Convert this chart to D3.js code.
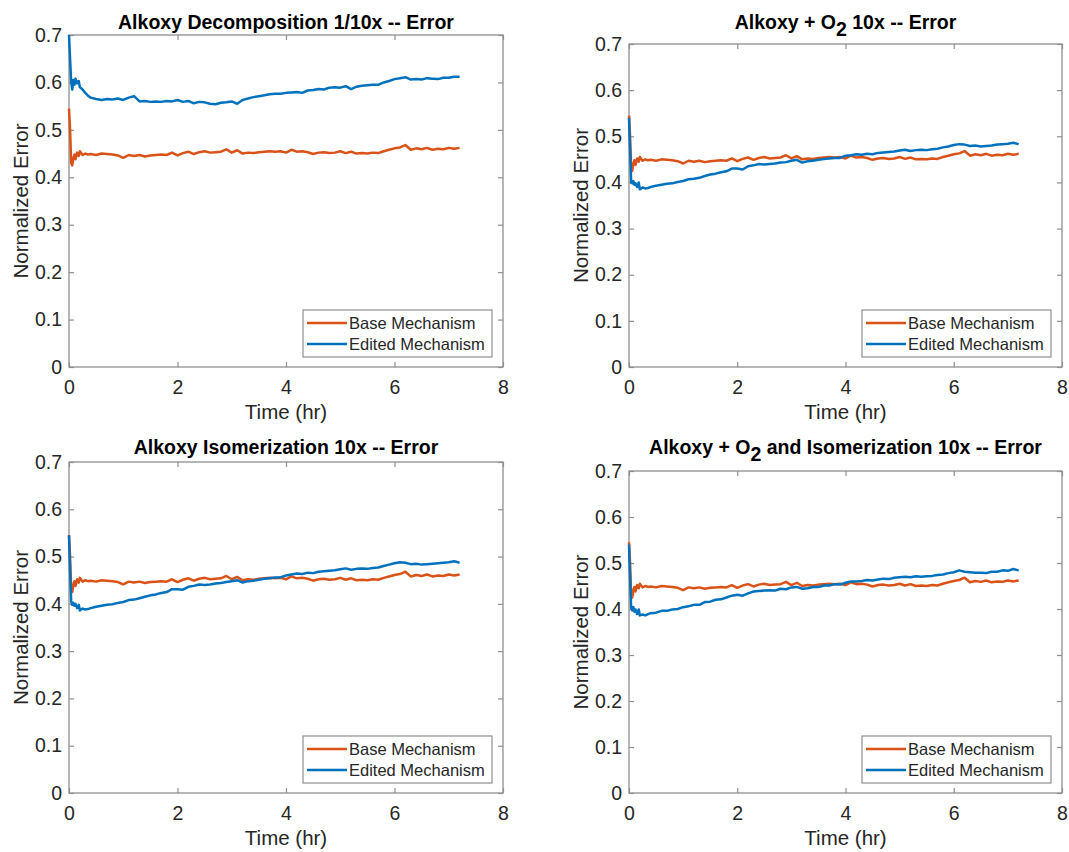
<!DOCTYPE html>
<html lang="en">

<head>
    <meta charset="UTF-8">
    <title>Alkoxy Mechanism Error</title>
    <script src="https://d3js.org/d3.v7.min.js"></script>
    <style>
        body { margin: 0; background: #fff; }
        text { font-family: "Liberation Sans", Arial, sans-serif; fill: #262626; }
    </style>
</head>

<body>
    <script>
        // time in hours
        let time = [0, 0.02, 0.04, 0.06, 0.08, 0.1, 0.12, 0.15, 0.18, 0.2, 0.25, 0.3, 0.35,
            0.4, 0.5, 0.6, 0.7, 0.8, 0.9, 1.0,
            1.1, 1.2, 1.3, 1.4, 1.5, 1.6, 1.7, 1.8, 1.9, 2.0,
            2.1, 2.2, 2.3, 2.4, 2.5, 2.6, 2.7, 2.8, 2.9, 3.0,
            3.1, 3.2, 3.3, 3.4, 3.5, 3.6, 3.7, 3.8, 3.9, 4.0,
            4.1, 4.2, 4.3, 4.4, 4.5, 4.6, 4.7, 4.8, 4.9, 5.0,
            5.1, 5.2, 5.3, 5.4, 5.5, 5.6, 5.7, 5.8, 5.9, 6.0,
            6.1, 6.2, 6.3, 6.4, 6.5, 6.6, 6.7, 6.8, 6.9, 7.0,
            7.1, 7.2];

        // base mechanism (same in every panel)
        let baseErr = [0.545, 0.50, 0.43, 0.425, 0.44, 0.448, 0.438, 0.452, 0.445, 0.455, 0.447, 0.45, 0.448,
            0.449, 0.447, 0.45, 0.449, 0.448, 0.446, 0.441,
            0.447, 0.445, 0.447, 0.444, 0.446, 0.447, 0.448, 0.447, 0.452, 0.446,
            0.451, 0.454, 0.449, 0.453, 0.455, 0.452, 0.453, 0.454, 0.459, 0.452,
            0.457, 0.45, 0.452, 0.451, 0.453, 0.454, 0.455, 0.454, 0.455, 0.452,
            0.458, 0.454, 0.455, 0.453, 0.449, 0.452, 0.453, 0.451, 0.452, 0.455,
            0.451, 0.454, 0.45, 0.451, 0.45, 0.452, 0.451, 0.455, 0.458, 0.461,
            0.463, 0.468, 0.458, 0.461, 0.459, 0.462, 0.458, 0.46, 0.459, 0.462,
            0.46, 0.462];

        let editedDecomp = [0.70, 0.65, 0.60, 0.585, 0.605, 0.595, 0.608, 0.598, 0.603, 0.59, 0.585, 0.578, 0.572,
            0.568, 0.565, 0.563, 0.565, 0.564, 0.566, 0.563,
            0.568, 0.571, 0.56, 0.561, 0.559, 0.56, 0.559, 0.561, 0.56, 0.563,
            0.559, 0.561, 0.556, 0.559, 0.558, 0.555, 0.554, 0.557, 0.558, 0.56,
            0.555, 0.563, 0.566, 0.569, 0.571, 0.573, 0.575, 0.576, 0.576, 0.578,
            0.579, 0.58, 0.578, 0.583, 0.584, 0.586, 0.585, 0.589, 0.59, 0.589,
            0.592, 0.586, 0.591, 0.593, 0.594, 0.595, 0.595, 0.6, 0.603, 0.607,
            0.609, 0.611, 0.606, 0.607, 0.606, 0.609, 0.608, 0.607, 0.61, 0.61,
            0.612, 0.612];

        let editedO2 = [0.54, 0.47, 0.40, 0.398, 0.403, 0.395, 0.398, 0.39, 0.4, 0.385, 0.389, 0.387, 0.388,
            0.39, 0.393, 0.395, 0.397, 0.398, 0.401, 0.403,
            0.407, 0.408, 0.41, 0.414, 0.417, 0.419, 0.422, 0.424, 0.43, 0.43,
            0.428, 0.435, 0.437, 0.44, 0.439, 0.44, 0.441, 0.443, 0.444, 0.447,
            0.449, 0.443, 0.446, 0.447, 0.449, 0.451, 0.452, 0.453, 0.453, 0.458,
            0.459, 0.461, 0.46, 0.462, 0.461, 0.464, 0.465, 0.466, 0.467, 0.469,
            0.471, 0.468, 0.47, 0.471, 0.47, 0.472, 0.473, 0.476, 0.478, 0.481,
            0.483, 0.482, 0.479, 0.48, 0.478, 0.479, 0.48, 0.482, 0.483, 0.484,
            0.486, 0.483];

        let editedIsom = [0.545, 0.47, 0.405, 0.398, 0.402, 0.396, 0.4, 0.391, 0.398, 0.386, 0.39, 0.388, 0.389,
            0.391, 0.394, 0.396, 0.398, 0.399, 0.402, 0.404,
            0.408, 0.409, 0.412, 0.415, 0.418, 0.42, 0.423, 0.425, 0.431, 0.431,
            0.43, 0.436, 0.438, 0.441, 0.44, 0.441, 0.443, 0.444, 0.446, 0.448,
            0.45, 0.445, 0.448, 0.449, 0.451, 0.453, 0.454, 0.456, 0.456, 0.46,
            0.462, 0.464, 0.463, 0.466, 0.465, 0.468, 0.469, 0.47, 0.471, 0.473,
            0.475, 0.472, 0.474, 0.475, 0.474, 0.476, 0.477, 0.48, 0.483, 0.486,
            0.488, 0.487, 0.484, 0.485, 0.483, 0.484, 0.485, 0.486, 0.487, 0.488,
            0.49, 0.487];

        let editedBoth = [0.54, 0.468, 0.402, 0.397, 0.404, 0.394, 0.399, 0.389, 0.399, 0.386, 0.388, 0.386, 0.389,
            0.391, 0.392, 0.396, 0.396, 0.399, 0.4, 0.404,
            0.406, 0.409, 0.409, 0.415, 0.416, 0.42, 0.421, 0.425, 0.429, 0.431,
            0.429, 0.434, 0.438, 0.439, 0.44, 0.441, 0.44, 0.444, 0.443, 0.447,
            0.448, 0.444, 0.445, 0.448, 0.448, 0.451, 0.451, 0.454, 0.453, 0.457,
            0.46, 0.46, 0.461, 0.463, 0.462, 0.464, 0.466, 0.465, 0.468, 0.469,
            0.47, 0.469, 0.471, 0.47, 0.471, 0.472, 0.474, 0.475, 0.478, 0.48,
            0.484, 0.481, 0.48, 0.479, 0.479, 0.478, 0.481, 0.481, 0.484, 0.483,
            0.487, 0.484];

        let titles = ["Alkoxy Decomposition 1/10x -- Error",
            "Alkoxy + O_2 10x -- Error",
            "Alkoxy Isomerization 10x -- Error",
            "Alkoxy + O_2 and Isomerization 10x -- Error"];
        let seriesNames = ["Base Mechanism", "Edited Mechanism"];
        let xTicks = [0, 2, 4, 6, 8];
        let yTicks = [0, 0.1, 0.2, 0.3, 0.4, 0.5, 0.6, 0.7];

        let width = 1069;
        let height = 852;
        let colors = ["#D95319", "#0072BD"];
        let axisColor = "#8f8f8f";

        let svg = d3.select("body")
            .append("svg")
            .attr("width", width)
            .attr("height", height);

        // axes boxes (pixel layout of each subplot)
        let panels = [
            { title: titles[0], edited: editedDecomp, left: 69, top: 35, right: 503, bottom: 367, titleY: 29 },
            { title: titles[1], edited: editedO2, left: 629, top: 44, right: 1062, bottom: 367, titleY: 29 },
            { title: titles[2], edited: editedIsom, left: 69, top: 462, right: 503, bottom: 793, titleY: 454 },
            { title: titles[3], edited: editedBoth, left: 629, top: 471, right: 1062, bottom: 793, titleY: 454 }
        ];

        panels.forEach(p => {
            let x = d3.scaleLinear().domain([0, 8]).range([p.left, p.right]);
            let y = d3.scaleLinear().domain([0, 0.7]).range([p.bottom, p.top]);
            let g = svg.append("g");

            // ticks on all four sides, pointing inward
            let axes = [
                [d3.axisBottom(x).tickValues(xTicks).tickPadding(13), `translate(0,${p.bottom})`],
                [d3.axisTop(x).tickValues(xTicks).tickFormat(""), `translate(0,${p.top})`],
                [d3.axisLeft(y).tickValues(yTicks).tickFormat(d => String(d)).tickPadding(7), `translate(${p.left},0)`],
                [d3.axisRight(y).tickValues(yTicks).tickFormat(""), `translate(${p.right},0)`]
            ];
            axes.forEach(([ax, tr]) => {
                let a = g.append("g")
                    .attr("transform", tr)
                    .call(ax.tickSizeInner(-5).tickSizeOuter(0));
                a.select(".domain").remove();
                a.selectAll("line").attr("stroke", axisColor).attr("stroke-width", 1.2);
                a.selectAll("text")
                    .attr("font-family", "Liberation Sans, Arial, sans-serif")
                    .attr("font-size", 19.5)
                    .attr("fill", "#262626");
            });

            g.append("rect")
                .attr("x", p.left)
                .attr("y", p.top)
                .attr("width", p.right - p.left)
                .attr("height", p.bottom - p.top)
                .attr("fill", "none")
                .attr("stroke", axisColor)
                .attr("stroke-width", 1.3);

            // data lines
            let line = d3.line()
                .x((d, i) => x(time[i]))
                .y(d => y(d));
            [baseErr, p.edited].forEach((s, k) => {
                g.append("path")
                    .datum(s)
                    .attr("d", line)
                    .attr("fill", "none")
                    .attr("stroke", colors[k])
                    .attr("stroke-width", 2.5)
                    .attr("stroke-linejoin", "round");
            });

            // title, with subscript for O2
            let parts = p.title.split("_2");
            let t = g.append("text")
                .attr("x", (p.left + p.right) / 2)
                .attr("y", p.titleY)
                .attr("text-anchor", "middle")
                .attr("font-size", 19.5)
                .attr("font-weight", "bold")
                .style("fill", "#000");
            t.append("tspan").text(parts[0]);
            if (parts.length > 1) {
                t.append("tspan").attr("dy", 7).text("2");
                t.append("tspan").attr("dy", -7).text(parts[1]);
            }

            g.append("text")
                .attr("x", (p.left + p.right) / 2)
                .attr("y", p.bottom + 52)
                .attr("text-anchor", "middle")
                .attr("font-size", 20.5)
                .text("Time (hr)");

            g.append("text")
                .attr("transform", `translate(${p.left - 41},${(p.top + p.bottom) / 2}) rotate(-90)`)
                .attr("text-anchor", "middle")
                .attr("font-size", 20.5)
                .text("Normalized Error");

            // legend, bottom right corner
            let lw = 189, lh = 47;
            let lx = p.right - 11 - lw, ly = p.bottom - 10 - lh;
            let leg = g.append("g").attr("transform", `translate(${lx},${ly})`);
            leg.append("rect")
                .attr("width", lw)
                .attr("height", lh)
                .attr("fill", "#fff")
                .attr("stroke", axisColor)
                .attr("stroke-width", 1.2);
            seriesNames.forEach((name, k) => {
                let yy = 13 + k * 21;
                leg.append("line")
                    .attr("x1", 4).attr("x2", 44)
                    .attr("y1", yy).attr("y2", yy)
                    .attr("stroke", colors[k])
                    .attr("stroke-width", 2.5);
                leg.append("text")
                    .attr("x", 46)
                    .attr("y", yy)
                    .attr("dy", "0.35em")
                    .attr("font-size", 16.5)
                    .text(name);
            });
        });
    </script>
</body>

</html>
